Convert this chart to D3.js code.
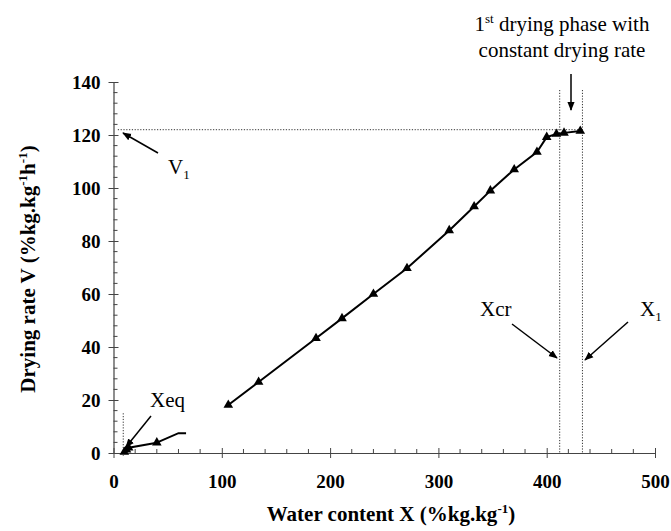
<!DOCTYPE html>
<html>
<head>
<meta charset="utf-8">
<script src="https://cdn.jsdelivr.net/npm/d3@7"></script>
<style>
  html, body { margin: 0; padding: 0; background: #fff; }
  svg { display: block; }
</style>
</head>
<body>
<svg id="chart" width="671" height="531"></svg>
<script>
// Drying kinetics: drying rate V against water content X
const xTicks = [0, 100, 200, 300, 400, 500];
const yTicks = [0, 20, 40, 60, 80, 100, 120, 140];

// main falling-rate curve (measured points)
const mainX = [106, 134, 187, 211, 240, 271, 310, 333, 348, 370, 391, 400, 409, 416, 431];
const mainV = [18.1, 26.8, 43.3, 50.8, 60.0, 69.7, 84.0, 93.0, 99.0, 107.0, 113.6, 119.2, 120.4, 120.8, 121.5];

// low-moisture end of the run near equilibrium
const lowX = [10, 12, 14, 40];
const lowV = [0.4, 1.2, 2.0, 3.9];
const lowTailX = [40, 60, 67];
const lowTailV = [3.9, 7.5, 7.5];

// characteristic values
const Xeq = 9;
const Xcr = 412;
const X1 = 433;
const V1 = 122;

const serif = "'Liberation Serif', 'Times New Roman', serif";
const svg = d3.select("#chart");

const x = d3.scaleLinear().domain([0, 500]).range([113.5, 655]);
const y = d3.scaleLinear().domain([0, 140]).range([453, 82]);

const axisColor = "#444";

// arrowhead marker
const defs = svg.append("defs");
defs.append("marker")
  .attr("id", "arrow")
  .attr("viewBox", "0 0 10 10")
  .attr("refX", 9).attr("refY", 5)
  .attr("markerWidth", 9).attr("markerHeight", 9)
  .attr("markerUnits", "userSpaceOnUse")
  .attr("orient", "auto")
  .append("path").attr("d", "M0,1 L10,5 L0,9 Z").attr("fill", "#000");

// x axis
const gx = svg.append("g").attr("transform", `translate(0,${y(0)})`)
  .call(d3.axisBottom(x).tickValues(xTicks).tickSize(5).tickSizeOuter(0));
gx.select(".domain").attr("stroke", axisColor).attr("stroke-width", 1.2);
gx.selectAll(".tick line").attr("y1", -5).attr("y2", 5).attr("stroke", axisColor);
gx.selectAll(".tick text")
  .attr("y", 35).attr("dy", null)
  .attr("font-family", serif).attr("font-size", 19).attr("font-weight", "bold").attr("fill", "#000");
// x minor ticks (inside)
const xMinor = d3.range(0, 501, 20).filter(v => v % 100 !== 0);
svg.append("g").selectAll("line").data(xMinor).join("line")
  .attr("x1", d => x(d)).attr("x2", d => x(d))
  .attr("y1", y(0)).attr("y2", y(0) - 4)
  .attr("stroke", axisColor);

// y axis
const gy = svg.append("g").attr("transform", `translate(${x(0)},0)`)
  .call(d3.axisLeft(y).tickValues(yTicks).tickSize(5).tickSizeOuter(0));
gy.select(".domain").attr("stroke", axisColor).attr("stroke-width", 1.2);
gy.selectAll(".tick line").attr("x1", -5).attr("x2", 5).attr("stroke", axisColor);
gy.selectAll(".tick text")
  .attr("x", -13).attr("dy", "0.33em")
  .attr("font-family", serif).attr("font-size", 19).attr("font-weight", "bold").attr("fill", "#000");
const yMinor = d3.range(0, 141, 4).filter(v => v % 20 !== 0);
svg.append("g").selectAll("line").data(yMinor).join("line")
  .attr("x1", x(0)).attr("x2", x(0) + 4)
  .attr("y1", d => y(d)).attr("y2", d => y(d))
  .attr("stroke", axisColor);

// axis titles
const xt = svg.append("text")
  .attr("x", 391).attr("y", 521)
  .attr("text-anchor", "middle")
  .attr("font-family", serif).attr("font-size", 21).attr("font-weight", "bold");
xt.append("tspan").text("Water content X (%kg.kg");
xt.append("tspan").attr("dy", -8).attr("font-size", 13).text("-1");
xt.append("tspan").attr("dy", 8).text(")");

const yt = svg.append("text")
  .attr("transform", `translate(35,269) rotate(-90)`)
  .attr("text-anchor", "middle")
  .attr("font-family", serif).attr("font-size", 21).attr("font-weight", "bold");
yt.append("tspan").text("Drying rate V (%kg.kg");
yt.append("tspan").attr("dy", -8).attr("font-size", 13).text("-1");
yt.append("tspan").attr("dy", 8).text("h");
yt.append("tspan").attr("dy", -8).attr("font-size", 13).text("-1");
yt.append("tspan").attr("dy", 8).text(")");

// dotted reference lines
const dotted = { stroke: "#333", "stroke-width": 1, "stroke-dasharray": "1.2,1.6" };
function dot(sel) { Object.entries(dotted).forEach(([k, v]) => sel.attr(k, v)); return sel; }
dot(svg.append("line").attr("x1", x(4)).attr("x2", x(X1)).attr("y1", y(V1)).attr("y2", y(V1)));
dot(svg.append("line").attr("x1", x(Xcr)).attr("x2", x(Xcr)).attr("y1", 90).attr("y2", y(0)));
dot(svg.append("line").attr("x1", x(X1)).attr("x2", x(X1)).attr("y1", 90).attr("y2", y(0)));
dot(svg.append("line").attr("x1", x(Xeq)).attr("x2", x(Xeq)).attr("y1", y(15)).attr("y2", y(0) + 3));

// curves
const line = d3.line().x(d => x(d[0])).y(d => y(d[1]));
const mainPts = mainX.map((v, i) => [v, mainV[i]]);
const lowPts = lowX.map((v, i) => [v, lowV[i]]);
const tailPts = lowTailX.map((v, i) => [v, lowTailV[i]]);

svg.append("path").datum(mainPts).attr("d", line)
  .attr("fill", "none").attr("stroke", "#000").attr("stroke-width", 2);
svg.append("path").datum(lowPts).attr("d", line)
  .attr("fill", "none").attr("stroke", "#000").attr("stroke-width", 2);
svg.append("path").datum(tailPts).attr("d", line)
  .attr("fill", "none").attr("stroke", "#000").attr("stroke-width", 2);

const tri = d3.symbol().type(d3.symbolTriangle).size(40);
svg.append("g").selectAll("path").data(mainPts.concat(lowPts)).join("path")
  .attr("transform", d => `translate(${x(d[0])},${y(d[1])})`)
  .attr("d", tri).attr("fill", "#000");

// annotations
const ann = { "font-family": serif, "font-size": 21, fill: "#000" };
function txt(xp, yp, anchor) {
  const t = svg.append("text").attr("x", xp).attr("y", yp).attr("text-anchor", anchor || "start");
  Object.entries(ann).forEach(([k, v]) => t.attr(k, v));
  return t;
}
function arrow(x1, y1, x2, y2) {
  svg.append("line").attr("x1", x1).attr("y1", y1).attr("x2", x2).attr("y2", y2)
    .attr("stroke", "#000").attr("stroke-width", 1.5).attr("marker-end", "url(#arrow)");
}

// phase caption
txt(562, 31, "middle").call(t => {
  t.append("tspan").text("1");
  t.append("tspan").attr("dy", -8).attr("font-size", 13).text("st");
  t.append("tspan").attr("dy", 8).text(" drying phase with");
});
txt(562, 57, "middle").text("constant drying rate");
arrow(571, 74, 571, 110);

// V1
txt(168, 174).call(t => {
  t.append("tspan").text("V");
  t.append("tspan").attr("dy", 5).attr("font-size", 13).text("1");
});
arrow(158, 153, 123, 133);

// Xcr and X1
txt(480, 316).text("Xcr");
arrow(512, 324, 557, 358);
txt(640, 316).call(t => {
  t.append("tspan").text("X");
  t.append("tspan").attr("dy", 5).attr("font-size", 13).text("1");
});
arrow(628, 322, 585, 360);

// Xeq
txt(150, 407).text("Xeq");
arrow(151, 416, 126, 447);
</script>
</body>
</html>
